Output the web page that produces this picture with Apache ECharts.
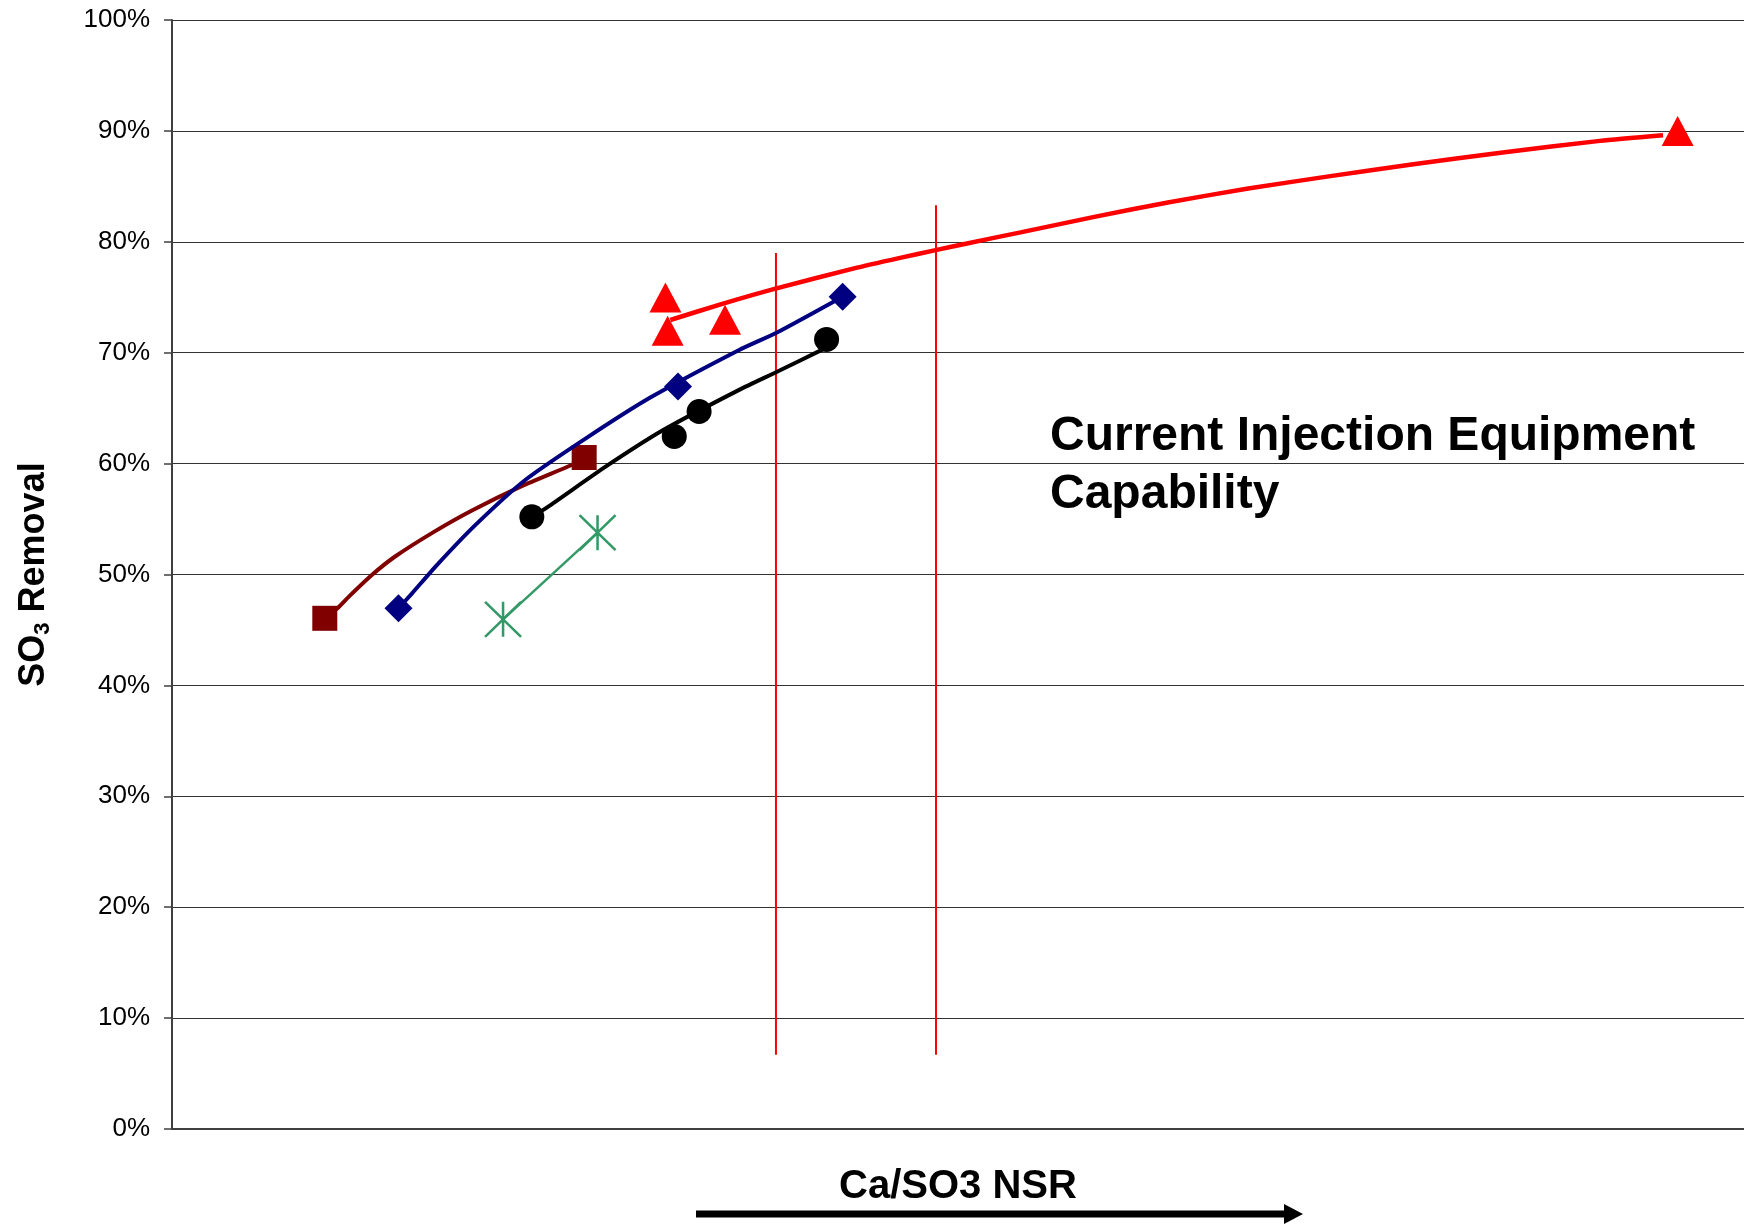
<!DOCTYPE html>
<html>
<head>
<meta charset="utf-8">
<script src="https://cdn.jsdelivr.net/npm/echarts@6/dist/echarts.min.js"></script>
<style>
  html, body { margin: 0; padding: 0; background: #fff; }
  #chart { width: 1744px; height: 1225px; }
</style>
</head>
<body>
<div id="chart"></div>
<script>
// x: relative Ca/SO3 NSR (arbitrary 0-100 scale, no labels), y: SO3 removal %
const maroonCurve = [[9.72,46.05],[10.52,46.95],[11.25,48.0],[12.71,49.95],[14.17,51.6],[16.61,53.8],[19.05,55.75],[22.21,57.95],[25.38,59.85],[26.22,60.45]];
const maroonPoints = [[9.72,46.05],[26.22,60.55]];

const blueCurve = [[14.41,46.95],[15.27,48.3],[16.85,50.85],[19.29,54.45],[22.45,58.5],[26.35,62.3],[30.48,66.0],[36.08,70.25],[38.52,71.85],[42.66,75.05]];
const bluePoints = [[14.41,46.95],[32.19,66.95],[42.66,75.05]];

const blackCurve = [[22.89,55.2],[23.91,56.1],[27.56,59.7],[31.22,63.0],[36.08,66.65],[38.52,68.3],[41.4,70.3]];
const blackPoints = [[22.89,55.2],[31.95,62.45],[33.53,64.7],[41.64,71.2]];

const greenLine = [[21.06,45.96],[27.07,53.77]];
const greenPoints = [[21.06,45.96],[27.07,53.77]];

const redCurve = [[31.70,72.95],[35.11,74.45],[38.45,75.8],[43.39,77.6],[46.31,78.55],[48.58,79.25],[50.57,79.85],[53.98,80.85],[58.52,82.2],[63.35,83.55],[68.46,84.8],[73.58,85.9],[78.97,87.0],[84.65,88.05],[90.84,89.1],[94.85,89.6]];
const redPoints = [[31.39,74.98],[31.53,71.97],[35.18,72.98],[95.78,90.0]];

const capabilityLine1 = [[38.42,6.7],[38.42,79.0]];
const capabilityLine2 = [[48.6,6.7],[48.6,83.3]];

const yTicks = [0,10,20,30,40,50,60,70,80,90,100];

const FONT = '"Liberation Sans", Arial, sans-serif';
const chart = echarts.init(document.getElementById('chart'));

function lineSeries(data, color, width, smooth) {
  return { type: 'line', data: data, showSymbol: false, symbol: 'none', smooth: smooth,
           lineStyle: { color: color, width: width }, animation: false, silent: true };
}
function pointSeries(data, symbol, size, color, itemStyle) {
  return { type: 'scatter', data: data, symbol: symbol, symbolSize: size,
           itemStyle: itemStyle || { color: color, opacity: 1 }, animation: false, silent: true };
}

chart.setOption({
  backgroundColor: '#fff',
  animation: false,
  grid: { left: 172, top: 20, right: 0, bottom: 96, containLabel: false },
  xAxis: {
    type: 'value', min: 0, max: 100,
    name: 'Ca/SO3 NSR', nameLocation: 'middle', nameGap: 38,
    nameTextStyle: { fontFamily: FONT, fontSize: 40, fontWeight: 'bold', color: '#000' },
    axisLine: { show: true, lineStyle: { color: '#404040', width: 2 } },
    axisTick: { show: false }, axisLabel: { show: false }, splitLine: { show: false }
  },
  yAxis: {
    type: 'value', min: yTicks[0], max: yTicks[yTicks.length - 1], interval: 10,
    name: '{a|SO}{b|3}{a| Removal}', nameLocation: 'middle', nameRotate: 90, nameGap: 118,
    nameTextStyle: {
      rich: {
        a: { fontFamily: FONT, fontSize: 36, fontWeight: 'bold', color: '#000', lineHeight: 40 },
        b: { fontFamily: FONT, fontSize: 22, fontWeight: 'bold', color: '#000', verticalAlign: 'bottom', lineHeight: 40, padding: [14, 0, 0, 0] }
      }
    },
    axisLine: { show: true, lineStyle: { color: '#404040', width: 2 } },
    axisTick: { show: true, length: 8, lineStyle: { color: '#404040', width: 1.5 } },
    axisLabel: { formatter: '{value}%', fontFamily: FONT, fontSize: 26, color: '#000', margin: 22 },
    splitLine: { show: true, lineStyle: { color: '#333', width: 1 } }
  },
  series: [
    lineSeries(capabilityLine1, '#ff0000', 2, false),
    lineSeries(capabilityLine2, '#ff0000', 2, false),
    lineSeries(maroonCurve, '#800000', 4, 0.2),
    lineSeries(blueCurve, '#000080', 4, 0.2),
    lineSeries(blackCurve, '#000000', 4, 0.2),
    lineSeries(greenLine, '#339966', 2.5, false),
    lineSeries(redCurve, '#ff0000', 4.5, 0.2),
    pointSeries(maroonPoints, 'rect', 25, '#800000'),
    pointSeries(bluePoints, 'diamond', 28, '#000080'),
    pointSeries(blackPoints, 'circle', 25, '#000000'),
    pointSeries(greenPoints, 'path://M50,0 L50,100 M0,0 L100,100 M0,100 L100,0', [36, 35], null,
      { color: 'rgba(0,0,0,0)', borderColor: '#339966', borderWidth: 2.5, opacity: 1 }),
    pointSeries(redPoints, 'triangle', [32, 30], '#ff0000')
  ],
  graphic: [
    { type: 'text', left: 1050, top: 413, silent: true,
      style: { text: 'Current Injection Equipment', font: 'bold 48px ' + FONT, fill: '#000' } },
    { type: 'text', left: 1050, top: 471, silent: true,
      style: { text: 'Capability', font: 'bold 48px ' + FONT, fill: '#000' } },
    { type: 'rect', silent: true, shape: { x: 696, y: 1210.5, width: 590, height: 7 }, style: { fill: '#000' } },
    { type: 'polygon', silent: true, shape: { points: [[1284, 1204], [1303, 1214], [1284, 1224]] }, style: { fill: '#000' } }
  ]
});
</script>
</body>
</html>
